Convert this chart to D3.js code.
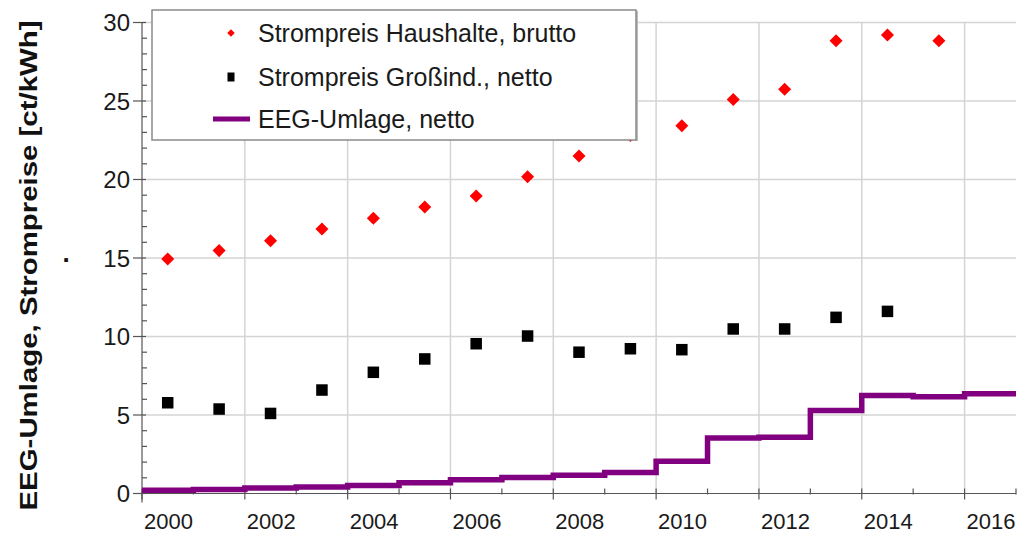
<!DOCTYPE html>
<html>
<head>
<meta charset="utf-8">
<script src="https://cdn.jsdelivr.net/npm/d3@7"></script>
<style>
  html, body { margin: 0; padding: 0; background: #fff; }
  svg { display: block; font-family: "Liberation Sans", Arial, sans-serif; }
</style>
</head>
<body>
<svg id="chart" width="1022" height="536"></svg>
<script>
// ---- data ----
const years = [2000, 2001, 2002, 2003, 2004, 2005, 2006, 2007, 2008, 2009, 2010, 2011, 2012, 2013, 2014, 2015, 2016];
const haushalteYears = [2000, 2001, 2002, 2003, 2004, 2005, 2006, 2007, 2008, 2009, 2010, 2011, 2012, 2013, 2014, 2015];
const haushalte = [14.94, 15.47, 16.1, 16.85, 17.53, 18.25, 18.95, 20.18, 21.5, 22.8, 23.43, 25.1, 25.75, 28.84, 29.2, 28.84];
const industrieYears = [2000, 2001, 2002, 2003, 2004, 2005, 2006, 2007, 2008, 2009, 2010, 2011, 2012, 2013, 2014];
const industrie = [5.78, 5.38, 5.1, 6.59, 7.72, 8.57, 9.54, 10.03, 9.0, 9.22, 9.16, 10.48, 10.48, 11.22, 11.6];
const eeg = [0.20, 0.25, 0.35, 0.41, 0.51, 0.69, 0.88, 1.02, 1.16, 1.33, 2.05, 3.53, 3.59, 5.28, 6.24, 6.17, 6.35];
const xTickLabels = [2000, 2002, 2004, 2006, 2008, 2010, 2012, 2014, 2016];
const yTickLabels = [0, 5, 10, 15, 20, 25, 30];
const legendLabels = ["Strompreis Haushalte, brutto", "Strompreis Großind., netto", "EEG-Umlage, netto"];
const yTitle = "EEG-Umlage, Strompreise  [ct/kWh]";

// ---- layout ----
const svg = d3.select("#chart");
const x = d3.scaleLinear().domain([2000, 2017]).range([142, 1016]);
const y = d3.scaleLinear().domain([0, 30]).range([493.5, 22.5]);
const gridColor = "#d4d4d4";
const axisColor = "#555";

// gridlines
svg.append("g").selectAll("line.hg").data(yTickLabels.filter(d => d > 0)).join("line")
  .attr("x1", x(2000)).attr("x2", x(2017))
  .attr("y1", d => y(d)).attr("y2", d => y(d))
  .attr("stroke", gridColor).attr("stroke-width", 1.5);
svg.append("g").selectAll("line.vg").data(xTickLabels.filter(d => d > 2000)).join("line")
  .attr("x1", d => x(d)).attr("x2", d => x(d))
  .attr("y1", y(30)).attr("y2", y(0))
  .attr("stroke", gridColor).attr("stroke-width", 1.5);

// y axis
const yMinor = d3.range(0, 31).filter(d => d % 5 !== 0);
const gy = svg.append("g");
gy.append("line").attr("x1", x(2000)).attr("x2", x(2000)).attr("y1", y(30)).attr("y2", y(0) + 9)
  .attr("stroke", axisColor).attr("stroke-width", 1.2);
gy.selectAll("line.ymaj").data(yTickLabels).join("line")
  .attr("x1", x(2000) - 9).attr("x2", x(2000) + 4)
  .attr("y1", d => y(d)).attr("y2", d => y(d))
  .attr("stroke", axisColor).attr("stroke-width", 1.2);
gy.selectAll("line.ymin").data(yMinor).join("line")
  .attr("x1", x(2000)).attr("x2", x(2000) + 5)
  .attr("y1", d => y(d)).attr("y2", d => y(d))
  .attr("stroke", axisColor).attr("stroke-width", 1.2);
gy.selectAll("text").data(yTickLabels).join("text")
  .attr("x", 130).attr("y", d => y(d) + 8.5)
  .attr("text-anchor", "end").attr("font-size", 24).attr("fill", "#1a1a1a")
  .text(d => d);

// x axis
const xMinor = d3.range(2001, 2018, 2);
const gx = svg.append("g");
gx.append("line").attr("x1", x(2000)).attr("x2", x(2017)).attr("y1", y(0)).attr("y2", y(0))
  .attr("stroke", axisColor).attr("stroke-width", 1.2);
gx.selectAll("line.xmaj").data(xTickLabels).join("line")
  .attr("x1", d => x(d)).attr("x2", d => x(d))
  .attr("y1", y(0) - 5).attr("y2", y(0) + 6)
  .attr("stroke", axisColor).attr("stroke-width", 1.2);
gx.selectAll("line.xmin").data(xMinor).join("line")
  .attr("x1", d => x(d)).attr("x2", d => x(d))
  .attr("y1", y(0) - 5).attr("y2", y(0) + 1)
  .attr("stroke", axisColor).attr("stroke-width", 1.2);
gx.selectAll("text").data(xTickLabels).join("text")
  .attr("x", d => x(d) + 2).attr("y", 528.5)
  .attr("text-anchor", "start").attr("font-size", 22).attr("fill", "#1a1a1a")
  .text(d => d);

// y title
svg.append("text")
  .attr("transform", "translate(37," + ((20 + 511) / 2) + ") rotate(-90)")
  .attr("text-anchor", "middle").attr("font-size", 24.5).attr("font-weight", "bold")
  .attr("fill", "#111")
  .attr("textLength", 490).attr("lengthAdjust", "spacingAndGlyphs")
  .text(yTitle);
svg.append("text").attr("x", 66).attr("y", 262).attr("text-anchor", "middle")
  .attr("font-size", 26).attr("font-weight", "bold").attr("fill", "#111").text(".");

// EEG step line
const stepData = years.map((yr, i) => [yr, eeg[i]]);
stepData.push([years[years.length - 1] + 1, eeg[eeg.length - 1]]);
svg.append("path")
  .attr("d", d3.line().x(d => x(d[0])).y(d => y(d[1])).curve(d3.curveStepAfter)(stepData))
  .attr("fill", "none").attr("stroke", "#800080").attr("stroke-width", 5.5);

// industrial squares
const sq = 11.5;
svg.append("g").selectAll("rect").data(industrie).join("rect")
  .attr("x", (d, i) => x(industrieYears[i] + 0.5) - sq / 2)
  .attr("y", d => y(d) - sq / 2)
  .attr("width", sq).attr("height", sq).attr("fill", "#000");

// household diamonds
const diamond = d3.symbol().type(d3.symbolSquare).size(85);
svg.append("g").selectAll("path").data(haushalte).join("path")
  .attr("d", diamond)
  .attr("transform", (d, i) => "translate(" + x(haushalteYears[i] + 0.5) + "," + y(d) + ") rotate(45)")
  .attr("fill", "#ff0000");

// legend
const lg = svg.append("g");
lg.append("line").attr("x1", 637).attr("x2", 637).attr("y1", 11).attr("y2", 141)
  .attr("stroke", "#bbb").attr("stroke-width", 2);
lg.append("rect").attr("x", 152).attr("y", 10).attr("width", 484).attr("height", 130)
  .attr("fill", "#fff").attr("stroke", "#8a8a8a").attr("stroke-width", 1.5);
const rowY = [33, 77, 119];
lg.append("path").attr("d", d3.symbol().type(d3.symbolSquare).size(28))
  .attr("transform", "translate(231," + rowY[0] + ") rotate(45)").attr("fill", "#ff0000");
lg.append("rect").attr("x", 227.5).attr("y", rowY[1] - 4.5).attr("width", 7).attr("height", 9).attr("fill", "#000");
lg.append("line").attr("x1", 213).attr("x2", 250).attr("y1", rowY[2]).attr("y2", rowY[2])
  .attr("stroke", "#800080").attr("stroke-width", 5);
lg.selectAll("text").data(legendLabels).join("text")
  .attr("x", 258).attr("y", (d, i) => rowY[i] + 9)
  .attr("font-size", 25).attr("fill", "#1a1a1a")
  .text(d => d);
</script>
</body>
</html>
